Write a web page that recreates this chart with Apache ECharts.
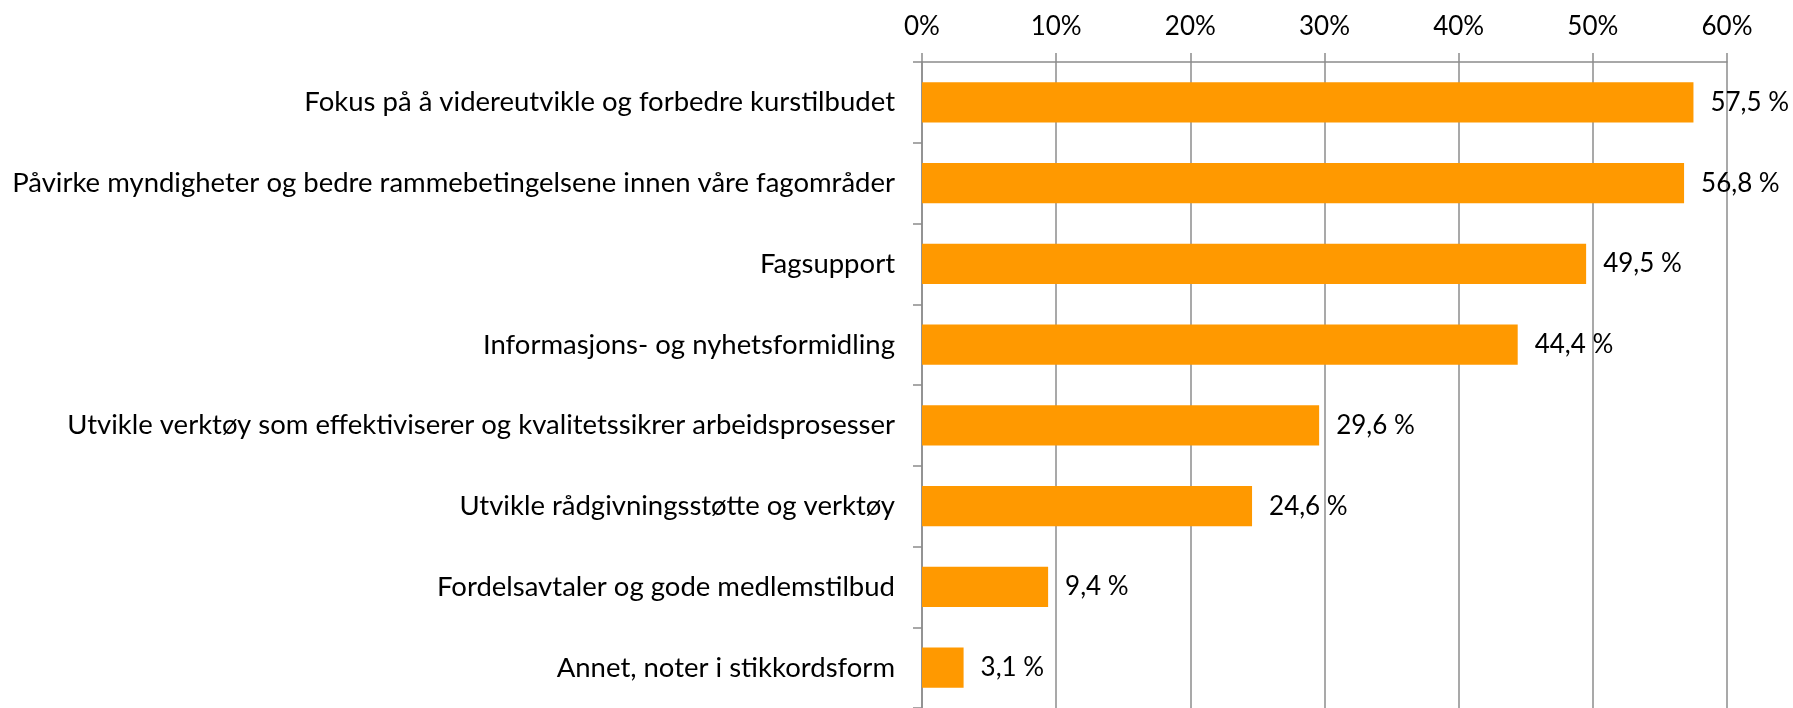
<!DOCTYPE html>
<html>
<head>
<meta charset="utf-8">
<script src="https://cdn.jsdelivr.net/npm/echarts@6/dist/echarts.min.js"></script>
<style>
  html, body { margin: 0; padding: 0; background: #fff; }
  #chart { width: 1793px; height: 708px; }
</style>
</head>
<body>
<div id="chart"></div>
<script>
const categories = [
  'Fokus på å videreutvikle og forbedre kurstilbudet',
  'Påvirke myndigheter og bedre rammebetingelsene innen våre fagområder',
  'Fagsupport',
  'Informasjons- og nyhetsformidling',
  'Utvikle verktøy som effektiviserer og kvalitetssikrer arbeidsprosesser',
  'Utvikle rådgivningsstøtte og verktøy',
  'Fordelsavtaler og gode medlemstilbud',
  'Annet, noter i stikkordsform'
]
const values = [57.5, 56.8, 49.5, 44.4, 29.6, 24.6, 9.4, 3.1]
const xMax = 60
const xStep = 10

const FONT = 'Lato, "Liberation Sans", sans-serif'
const GREY = '#8c8c8c'

const chart = echarts.init(document.getElementById('chart'))
chart.setOption({
  animation: false,
  grid: { left: 922, right: 66, top: 62, bottom: -5, containLabel: false },
  xAxis: {
    type: 'value',
    position: 'top',
    min: 0,
    max: xMax,
    interval: xStep,
    axisLine: { show: true, lineStyle: { color: GREY, width: 1.5 } },
    axisTick: { show: true, length: 9, lineStyle: { color: GREY, width: 1.5 } },
    splitLine: { show: true, lineStyle: { color: GREY, width: 1.5 } },
    axisLabel: {
      formatter: '{value}%',
      margin: 22,
      color: '#000',
      fontSize: 26,
      fontFamily: FONT
    }
  },
  yAxis: {
    type: 'category',
    data: categories,
    inverse: true,
    axisLine: { show: true, lineStyle: { color: GREY, width: 1.5 } },
    axisTick: { show: true, length: 9, lineStyle: { color: GREY, width: 1.5 } },
    axisLabel: {
      margin: 27,
      color: '#000',
      fontSize: 27.5,
      fontFamily: FONT
    }
  },
  series: [{
    type: 'bar',
    data: values,
    barWidth: '50%',
    itemStyle: { color: '#ff9900' },
    label: {
      show: true,
      position: 'right',
      distance: 17,
      color: '#000',
      fontSize: 26,
      fontFamily: FONT,
      formatter: p => p.value.toFixed(1).replace('.', ',') + ' %'
    }
  }]
})
</script>
</body>
</html>
